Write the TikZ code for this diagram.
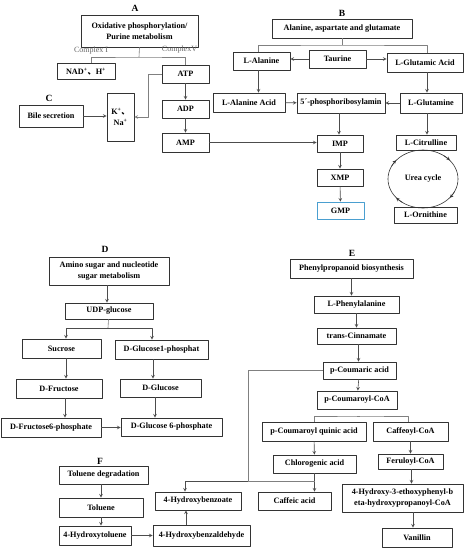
\documentclass[tikz,border=0pt]{standalone}
\usepackage{fontspec}
\setmainfont{Liberation Serif}
\newfontfamily\cjk{Noto Sans CJK SC}
\usetikzlibrary{shapes.geometric}
\definecolor{gmpblue}{HTML}{4A9FD0}
\begin{document}
\begin{tikzpicture}[x=1pt,y=-1pt,>=stealth,line join=round,
	box/.style={draw=black!80,line width=.8pt,inner sep=1pt,align=center,font=\fontsize{8.2}{11}\selectfont\bfseries},
	lbl/.style={font=\fontsize{9.5}{10}\selectfont\bfseries},
	note/.style={text=black!60,font=\fontsize{8}{9}\selectfont},
	arr/.style={->,draw=black!70,line width=.6pt},
	ln/.style={draw=black!50,line width=.6pt}]
	\useasboundingbox (0,0) rectangle (467,550);
	
	% A: Oxidative phosphorylation
	\node[lbl] at (135,8) {A};
	\node[box,minimum width=117,minimum height=32] (oxi) at (139.5,31) {Oxidative phosphorylation/\\Purine metabolism};
	\coordinate (brA) at (139,57);
	\node[box,minimum width=58,minimum height=16] (nad) at (86,71.5) {NAD\textsuperscript{+}{\cjk 、}H\textsuperscript{+}};
	\node[box,minimum width=47,minimum height=18] (atp) at (185.5,74) {ATP};
	\node[box,minimum width=47,minimum height=18] (adp) at (185.5,109) {ADP};
	\node[box,minimum width=47,minimum height=19] (amp) at (185.5,142.5) {AMP};
	\node[note] at (91,51) {Complex I};
	\node[note] at (179.5,49.5) {ComplexV};
	\draw[ln] (oxi.south) -- (brA);
	\draw[ln] ([xshift=5]nad.north) |- (brA) -| (atp.north);
	\draw[arr] (atp) -- (adp);
	\draw[arr] (adp) -- (amp);
	
	% C: Bile secretion
	\node[lbl] at (49,98) {C};
	\node[box,minimum width=64,minimum height=22] (bile) at (51,116) {Bile secretion};
	\node[box,minimum width=27,minimum height=48] (kna) at (120.5,117) {K\textsuperscript{+}{\cjk 、}\\Na\textsuperscript{+}};
	\draw[arr] (bile.east) -- (bile.east -| kna.west);
	\draw[arr,draw=black!50] (atp.west) -- ++(-13,0) |- (kna.east);
	
	% B: Alanine, aspartate and glutamate
	\node[lbl] at (342,13) {B};
	\node[box,minimum width=140,minimum height=19] (alas) at (342,28.5) {Alanine, aspartate and glutamate};
	\coordinate (brB) at (342,45);
	\node[box,minimum width=57,minimum height=18] (lala) at (261.5,61) {L-Alanine};
	\node[box,minimum width=57,minimum height=18] (taur) at (337.5,59) {Taurine};
	\node[box,minimum width=76,minimum height=19] (lglu) at (425,62.5) {L-Glutamic Acid};
	\node[box,minimum width=72,minimum height=19] (laac) at (249,102.5) {L-Alanine Acid};
	\node[box,minimum width=88,minimum height=20] (prib) at (341,103) {5´-phosphoribosylamin};
	\node[box,minimum width=62,minimum height=20] (lgln) at (431,103) {L-Glutamine};
	\node[box,minimum width=46,minimum height=17] (imp) at (340,143.5) {IMP};
	\node[box,minimum width=46,minimum height=17] (xmp) at (340,177.5) {XMP};
	\node[box,draw=gmpblue,minimum width=47,minimum height=17] (gmp) at (340.5,210.5) {GMP};
	\node[box,minimum width=60,minimum height=15] (citr) at (426,142.5) {L-Citrulline};
	\node[box,draw=black!80,line width=.6pt,ellipse,inner sep=0pt,minimum width=70,minimum height=58] (urea) at (423,179) {Urea cycle};
	\node[box,minimum width=63,minimum height=16] (lorn) at (425.5,215) {L-Ornithine};
	\draw[ln] (alas) -- (brB);
	\draw[ln] ([xshift=-3]lala.north) |- (brB) -| ([xshift=2]lglu.north);
	\draw[arr] (taur.west) -- (taur.west -| lala.east);
	\draw[arr] (taur.east) -- (taur.east -| lglu.west);
	\draw[arr] ([xshift=-3]lala.south) -- ([xshift=-3]lala.south |- laac.north);
	\draw[arr] (laac) -- (prib);
	\draw[arr] (lgln) -- (prib);
	\draw[arr] ([xshift=2]lglu.south) -- ([xshift=2]lglu.south |- lgln.north);
	\draw[arr] ([xshift=-2]prib.south) -- ([xshift=-2]prib.south |- imp.north);
	\draw[arr] (imp) -- (xmp);
	\draw[arr] (xmp) -- (gmp);
	\draw[arr] ([xshift=-4]lgln.south) -- ([xshift=-4]lgln.south |- citr.north);
	\draw[arr] (amp.east) -- (amp.east -| imp.west);
	% tips on the urea cycle
	\foreach \a in {-140,-40,40,140}
	\draw[->,black!80,line width=.6pt] ([shift={(\a-14:35 and 29)}]urea.center) arc (\a-14:\a:35 and 29);
	
	% D: Amino sugar and nucleotide sugar
	\node[lbl] at (105,249) {D};
	\node[box,minimum width=120,minimum height=28] (amino) at (109,271) {Amino sugar and nucleotide\\sugar metabolism};
	\node[box,minimum width=88,minimum height=16] (udp) at (109,311) {UDP-glucose};
	\coordinate (brD) at (108,328);
	\node[box,minimum width=79,minimum height=19] (sucr) at (61.5,348.5) {Sucrose};
	\node[box,minimum width=93,minimum height=19] (glcp) at (161.5,349.5) {D-Glucose1-phosphat};
	\node[box,minimum width=86,minimum height=19] (fru) at (59,388.5) {D-Fructose};
	\node[box,minimum width=81,minimum height=18] (glc) at (160.5,388) {D-Glucose};
	\node[box,minimum width=100,minimum height=19] (frus) at (51,427.5) {D-Fructose6-phosphate};
	\node[box,minimum width=101,minimum height=18] (glcs) at (171.5,427) {D-Glucose 6-phosphate};
	\draw[arr] ([xshift=-2]amino.south) -- ([xshift=-2]amino.south |- udp.north);
	\draw[ln] (udp) -- (brD);
	\draw[arr] (brD) -| ([xshift=4.5]sucr.north);
	\draw[arr] (brD) -| ([xshift=-9.5]glcp.north);
	\draw[arr] ([xshift=4.5]sucr.south) -- ([xshift=4.5]sucr.south |- fru.north);
	\draw[arr] ([xshift=6]fru.south) -- ([xshift=6]fru.south |- frus.north);
	\draw[arr] ([xshift=-8.5]glcp.south) -- ([xshift=-8.5]glcp.south |- glc.north);
	\draw[<->,arr] ([xshift=-5.5]glc.south) -- ([xshift=-5.5]glc.south |- glcs.north);
	\draw[<->,arr] (frus.east) -- (frus.east -| glcs.west);
	
	% E: Phenylpropanoid biosynthesis
	\node[lbl] at (352,253) {E};
	\node[box,minimum width=123,minimum height=19] (phen) at (351.5,268.5) {Phenylpropanoid biosynthesis};
	\node[box,minimum width=85,minimum height=17] (lphe) at (356.5,304.5) {L-Phenylalanine};
	\node[box,minimum width=79,minimum height=16] (cinn) at (356.5,336) {trans-Cinnamate};
	\node[box,minimum width=73,minimum height=17] (pcou) at (359.5,370.5) {p-Coumaric acid};
	\node[box,minimum width=80,minimum height=18] (pcoa) at (357,400) {p-Coumaroyl-CoA};
	\coordinate (brE) at (360,416);
	\node[box,minimum width=104,minimum height=19] (quin) at (314,431.5) {p-Coumaroyl quinic acid};
	\node[box,minimum width=75,minimum height=19] (caff) at (410.5,431.5) {Caffeoyl-CoA};
	\node[box,minimum width=83,minimum height=18] (chlo) at (314.5,464) {Chlorogenic acid};
	\node[box,minimum width=65,minimum height=15] (feru) at (410.5,461.5) {Feruloyl-CoA};
	\node[box,minimum width=121,minimum height=28] (hypc) at (402.5,498) {4-Hydroxy-3-ethoxyphenyl-b\\eta-hydroxypropanoyl-CoA};
	\node[box,minimum width=70,minimum height=19] (vani) at (417,537.5) {Vanillin};
	\node[box,minimum width=73,minimum height=18] (cafa) at (294.5,501) {Caffeic acid};
	\coordinate (brP) at (248,481);
	\draw[arr] (phen.south) -- (phen.south |- lphe.north);
	\draw[arr] (lphe) -- (cinn);
	\draw[arr] ([xshift=-1]pcou.north |- cinn.south) -- ([xshift=-1]pcou.north);
	\draw[arr] (pcou) -- (pcoa);
	\draw[ln] (brE -| pcoa.south) -- (brE);
	\draw[ln] (quin.north) |- (brE) -| ([xshift=-2]caff.north);
	\draw[arr] (quin) -- (chlo);
	\draw[arr] (caff) -- (feru);
	\draw[arr] ([xshift=1]feru.south) -- ([xshift=1]feru.south |- hypc.north);
	\draw[arr] ([xshift=-4]vani.north |- hypc.south) -- ([xshift=-4]vani.north);
	\draw[arr] (chlo.south) -- (chlo.south |- cafa.north);
	\draw[ln] (pcou.west) -| (brP) -- (brP -| chlo.south);
	
	% F: Toluene degradation
	\node[lbl] at (100,461) {F};
	\node[box,minimum width=89,minimum height=18] (tolg) at (103.5,475) {Toluene degradation};
	\node[box,minimum width=84,minimum height=19] (tolu) at (101,507.5) {Toluene};
	\node[box,minimum width=72,minimum height=19] (htol) at (95,535.5) {4-Hydroxytoluene};
	\node[box,minimum width=86,minimum height=18] (hbzo) at (198,501) {4-Hydroxybenzoate};
	\node[box,minimum width=97,minimum height=21] (hbza) at (201.5,535.5) {4-Hydroxybenzaldehyde};
	\draw[arr] ([xshift=-2.5]tolg.south) -- ([xshift=-2.5]tolg.south |- tolu.north);
	\draw[arr] (tolu.south) -- (tolu.south |- htol.north);
	\draw[arr] (htol.east) -- (htol.east -| hbza.west);
	\draw[arr] ([xshift=-15.5]hbza.north) -- ([xshift=-15.5]hbza.north |- hbzo.south);
	\draw[arr] (brP) -| ([xshift=-13]hbzo.north);
\end{tikzpicture}
\end{document}
